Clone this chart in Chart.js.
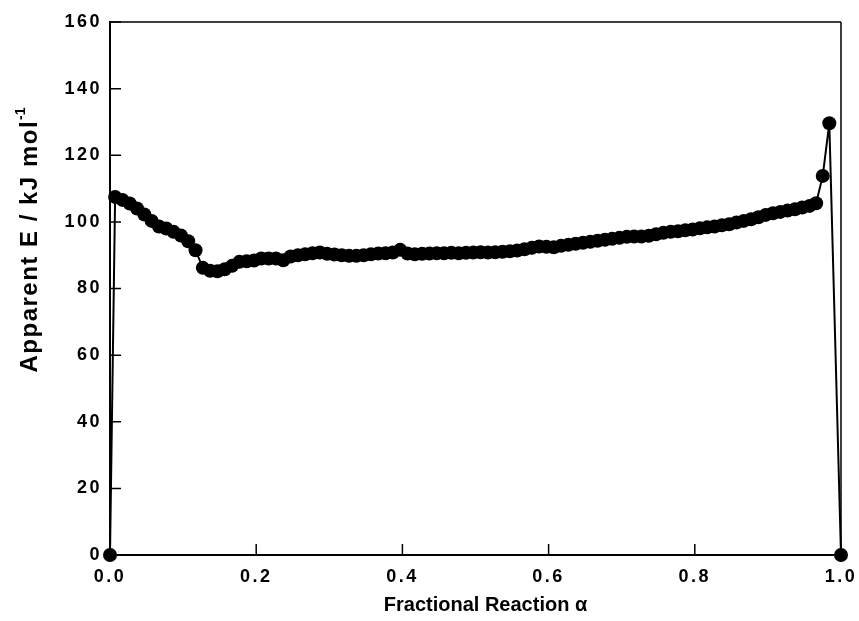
<!DOCTYPE html>
<html>
<head>
<meta charset="utf-8">
<script src="https://cdn.jsdelivr.net/npm/chart.js@4.4.1/dist/chart.umd.min.js"></script>
<style>
  html, body { margin: 0; padding: 0; background: #fff; }
  #wrap { width: 859px; height: 621px; position: relative; }
</style>
</head>
<body>
<div id="wrap"><canvas id="c" width="859" height="621"></canvas></div>
<script>
// Fractional reaction (alpha) values
const alpha = [
  0.000, 0.007, 0.017, 0.027, 0.037, 0.047, 0.057, 0.067, 0.077, 0.087,
  0.097, 0.107, 0.117, 0.127, 0.137, 0.147, 0.157, 0.167, 0.177, 0.187,
  0.197, 0.207, 0.217, 0.227, 0.237, 0.247, 0.257, 0.267, 0.277, 0.287,
  0.297, 0.307, 0.317, 0.327, 0.337, 0.347, 0.357, 0.367, 0.377, 0.387,
  0.397, 0.407, 0.417, 0.427, 0.437, 0.447, 0.457, 0.467, 0.477, 0.487,
  0.497, 0.507, 0.517, 0.527, 0.537, 0.547, 0.557, 0.567, 0.577, 0.587,
  0.597, 0.607, 0.617, 0.627, 0.637, 0.647, 0.657, 0.667, 0.677, 0.687,
  0.697, 0.707, 0.717, 0.727, 0.737, 0.747, 0.757, 0.767, 0.777, 0.787,
  0.797, 0.807, 0.817, 0.827, 0.837, 0.847, 0.857, 0.867, 0.877, 0.887,
  0.897, 0.907, 0.917, 0.927, 0.937, 0.947, 0.957, 0.966, 0.975, 0.984,
  1.000
];
// Apparent activation energy, kJ/mol
const energy = [
  0.0, 107.5, 106.6, 105.5, 104.0, 102.2, 100.3, 98.6, 98.0, 97.0,
  95.9, 94.2, 91.5, 86.2, 85.3, 85.2, 85.8, 86.8, 88.0, 88.2,
  88.4, 89.0, 89.0, 89.0, 88.5, 89.6, 90.0, 90.3, 90.6, 90.8,
  90.4, 90.2, 90.0, 89.8, 89.8, 90.0, 90.3, 90.5, 90.6, 90.8,
  91.6, 90.5, 90.3, 90.4, 90.5, 90.6, 90.6, 90.7, 90.6, 90.7,
  90.8, 90.9, 90.8, 90.9, 91.0, 91.2, 91.4, 91.8, 92.2, 92.6,
  92.5, 92.4, 92.8, 93.1, 93.4, 93.7, 94.0, 94.3, 94.6, 94.9,
  95.2, 95.5, 95.6, 95.6, 95.8, 96.3, 96.7, 97.0, 97.2, 97.5,
  97.7, 98.1, 98.4, 98.6, 99.0, 99.3, 99.8, 100.3, 100.8, 101.4,
  102.1, 102.6, 103.0, 103.4, 103.8, 104.3, 104.8, 105.6, 113.8, 129.6,
  0.0
];
const xTicks = [0.0, 0.2, 0.4, 0.6, 0.8, 1.0];
const yTicks = [0, 20, 40, 60, 80, 100, 120, 140, 160];
const xTitle = 'Fractional Reaction \u03B1';
const yTitle = 'Apparent E / kJ mol';
const yTitleSup = '-1';

const points = alpha.map((a, i) => ({ x: a, y: energy[i] }));
const FONT = '"Liberation Sans", Arial, sans-serif';

const framePlugin = {
  id: 'frame',
  beforeDraw(chart) {
    chart.ctx.letterSpacing = '2.5px';
  },
  afterDraw(chart) {
    const ctx = chart.ctx;
    const { left, right, top, bottom } = chart.chartArea;
    const xs = chart.scales.x, ys = chart.scales.y;
    ctx.save();
    ctx.letterSpacing = '0px';
    ctx.strokeStyle = '#000';
    ctx.lineWidth = 1.5;
    ctx.beginPath();
    ctx.moveTo(left, top); ctx.lineTo(right, top);
    ctx.moveTo(right, top); ctx.lineTo(right, bottom);
    ctx.stroke();
    // inward ticks
    ctx.beginPath();
    xTicks.forEach(v => {
      const px = xs.getPixelForValue(v);
      ctx.moveTo(px, bottom); ctx.lineTo(px, bottom - 11);
    });
    yTicks.forEach(v => {
      const py = ys.getPixelForValue(v);
      ctx.moveTo(left, py); ctx.lineTo(left + 11, py);
    });
    ctx.stroke();
    // axis titles
    ctx.fillStyle = '#000';
    ctx.font = 'bold 20px ' + FONT;
    ctx.textAlign = 'center';
    ctx.textBaseline = 'middle';
    ctx.fillText(xTitle, (left + right) / 2 + 10, 605);

    ctx.translate(30, 240);
    ctx.rotate(-Math.PI / 2);
    ctx.letterSpacing = '1.5px';
    ctx.font = 'bold 24px ' + FONT;
    const w1 = ctx.measureText(yTitle).width;
    ctx.letterSpacing = '0px';
    ctx.font = 'bold 14px ' + FONT;
    const w2 = ctx.measureText(yTitleSup).width;
    const start = -(w1 + w2) / 2;
    ctx.textAlign = 'left';
    ctx.letterSpacing = '1.5px';
    ctx.font = 'bold 24px ' + FONT;
    ctx.fillText(yTitle, start, 0);
    ctx.letterSpacing = '0px';
    ctx.font = 'bold 14px ' + FONT;
    ctx.fillText(yTitleSup, start + w1, -9);
    ctx.restore();
  }
};

new Chart(document.getElementById('c'), {
  type: 'scatter',
  data: {
    datasets: [{
      data: points,
      showLine: true,
      borderColor: '#000',
      borderWidth: 2,
      backgroundColor: '#000',
      pointBackgroundColor: '#000',
      pointBorderColor: '#000',
      pointRadius: 7,
      pointBorderWidth: 0,
      tension: 0,
      clip: false
    }]
  },
  options: {
    responsive: false,
    animation: false,
    events: [],
    layout: { padding: { top: 22, right: 18, left: 0, bottom: 0 } },
    plugins: { legend: { display: false }, tooltip: { enabled: false } },
    scales: {
      x: {
        type: 'linear',
        min: 0, max: 1,
        afterBuildTicks(scale) { scale.ticks = xTicks.map(v => ({ value: v })); },
        afterFit(scale) { scale.height = 66; scale.paddingRight = 0; scale.paddingLeft = 0; },
        grid: { display: true, drawOnChartArea: false, drawTicks: false },
        border: { display: true, color: '#000', width: 2 },
        ticks: {
          padding: 11,
          color: '#000',
          font: { family: FONT, size: 18, weight: 'bold' },
          maxRotation: 0,
          callback: v => v.toFixed(1)
        }
      },
      y: {
        type: 'linear',
        min: 0, max: 160,
        afterBuildTicks(scale) { scale.ticks = yTicks.map(v => ({ value: v })); },
        afterFit(scale) { scale.width = 110; scale.paddingTop = 0; scale.paddingBottom = 0; },
        grid: { display: true, drawOnChartArea: false, drawTicks: false },
        border: { display: true, color: '#000', width: 2 },
        ticks: {
          padding: 8,
          color: '#000',
          font: { family: FONT, size: 18, weight: 'bold' },
          callback: v => String(v)
        }
      }
    }
  },
  plugins: [framePlugin]
});
</script>
</body>
</html>
